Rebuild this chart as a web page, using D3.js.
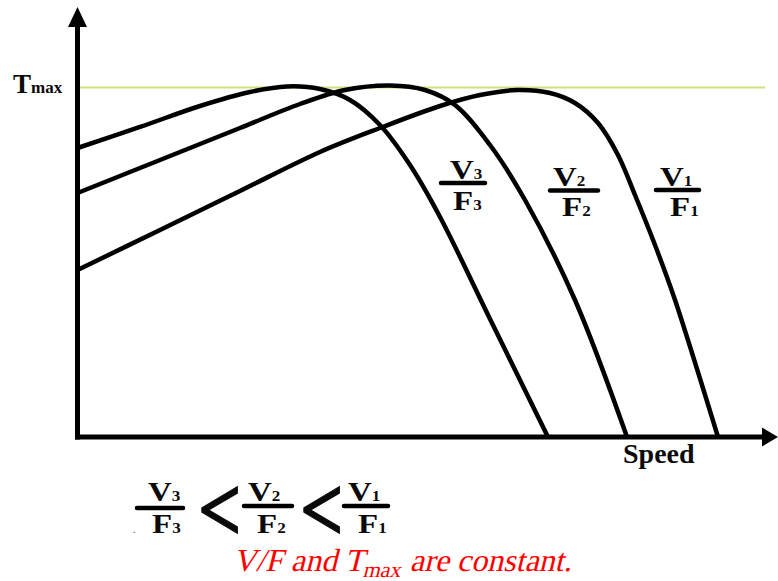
<!DOCTYPE html>
<html>
<head>
<meta charset="utf-8">
<script src="https://cdn.jsdelivr.net/npm/d3@7"></script>
<style>
  html, body { margin: 0; padding: 0; background: #ffffff; }
  svg { display: block; }
</style>
</head>
<body>
<svg id="chart" width="778" height="581"></svg>
<script>
// ---- Data (speed in % of axis length, torque in % of Tmax) ----
const curveNames = ["V3/F3", "V2/F2", "V1/F1"];
const v3Speed  = [0, 8.93, 17.5, 24.64, 29.93, 34.64, 38.93, 43.21, 47.5, 51.79, 58.93, 67.21];
const v3Torque = [82.69, 88.7, 94.71, 98.71, 100.29, 99.57, 96.42, 89.27, 77.82, 62.95, 33.76, 0];
const v2Speed  = [0, 11.79, 23.21, 31.79, 38.21, 44.64, 49.64, 53.93, 58.93, 63.93, 71.07, 78.5];
const v2Torque = [69.81, 79.26, 88.41, 95.28, 99.28, 100.57, 99.28, 94.99, 83.55, 67.81, 39.2, 0];
const v1Speed  = [0, 11.79, 23.21, 34.64, 43.21, 51.79, 57.5, 62.79, 67.5, 71.07, 74.36, 77.21, 79.64, 82.5, 85.36, 91.5];
const v1Torque = [47.78, 59.23, 70.39, 81.55, 88.41, 94.71, 97.85, 99.28, 98.43, 95.57, 89.84, 80.69, 69.24, 54.94, 39.2, 0];
const tmaxValue = 100;
const axisLabelY = "T";
const axisLabelYSub = "max";
const axisLabelX = "Speed";
const fracNum = ["V", "V", "V"];
const fracDen = ["F", "F", "F"];
const fracIdx = ["3", "2", "1"];
const noteMain = "V/F and T";
const noteSub = "max";
const noteEnd = " are constant.";

const series = [
  { name: curveNames[0], pts: v3Speed.map((s, i) => [s, v3Torque[i]]) },
  { name: curveNames[1], pts: v2Speed.map((s, i) => [s, v2Torque[i]]) },
  { name: curveNames[2], pts: v1Speed.map((s, i) => [s, v1Torque[i]]) }
];

const svg = d3.select("#chart");
const x = d3.scaleLinear().domain([0, 100]).range([77.5, 777.5]);
const y = d3.scaleLinear().domain([0, 100]).range([437, 87.5]);

const serif = "'Liberation Serif', 'Times New Roman', Times, serif";
const ink = "#0a0a0a";

// Tmax reference line
svg.append("line")
  .attr("x1", x(0) + 2).attr("x2", 765)
  .attr("y1", y(tmaxValue)).attr("y2", y(tmaxValue))
  .attr("stroke", "#cde27c").attr("stroke-width", 2);

// Curves
const line = d3.line()
  .x(d => x(d[0])).y(d => y(d[1]))
  .curve(d3.curveCatmullRom.alpha(0.5));

svg.append("g").selectAll("path")
  .data(series).join("path")
  .attr("d", d => line(d.pts))
  .attr("fill", "none")
  .attr("stroke", "#000")
  .attr("stroke-width", 4.5)
  .attr("stroke-linejoin", "round");

// Axes
const ax = svg.append("g");
ax.append("line")
  .attr("x1", x(0)).attr("x2", x(0))
  .attr("y1", y(0) + 2.5).attr("y2", 24)
  .attr("stroke", "#000").attr("stroke-width", 5);
ax.append("path")
  .attr("d", `M${x(0)},7 L${x(0) - 9.5},27 L${x(0) + 9.5},27 Z`)
  .attr("fill", "#000");
ax.append("line")
  .attr("x1", x(0) - 2.5).attr("x2", 765)
  .attr("y1", y(0)).attr("y2", y(0))
  .attr("stroke", "#000").attr("stroke-width", 5);
ax.append("path")
  .attr("d", `M778,${y(0)} L762,${y(0) - 9.5} L762,${y(0) + 9.5} Z`)
  .attr("fill", "#000");

// Y label Tmax
const ty = svg.append("text")
  .attr("x", 13).attr("y", 93)
  .attr("font-family", serif).attr("font-weight", "bold")
  .attr("fill", ink);
ty.append("tspan").attr("font-size", 27).text(axisLabelY);
ty.append("tspan").attr("font-size", 17).text(axisLabelYSub);

// X label Speed
svg.append("text")
  .attr("x", 623).attr("y", 463)
  .attr("font-family", serif).attr("font-weight", "bold")
  .attr("font-size", 28).attr("fill", ink)
  .text(axisLabelX);

// Fraction helper
function frac(i, numX, denX, barX1, barX2, barY, numBase, denBase) {
  const g = svg.append("g");
  const addTxt = (tx, ty, main, sub) => {
    const t = g.append("text")
      .attr("transform", `translate(${tx},${ty}) scale(1.22,1)`)
      .attr("font-family", serif).attr("font-weight", "bold")
      .attr("fill", ink);
    t.append("tspan").attr("font-size", 27).text(main);
    t.append("tspan").attr("font-size", 14).text(sub);
  };
  addTxt(numX, numBase, fracNum[i], fracIdx[i]);
  addTxt(denX, denBase, fracDen[i], fracIdx[i]);
  g.append("line")
    .attr("x1", barX1).attr("x2", barX2)
    .attr("y1", barY).attr("y2", barY)
    .attr("stroke", "#000").attr("stroke-width", 4.5)
    .attr("stroke-linecap", "round");
}

// Curve labels
frac(0, 450, 453, 441, 485, 183, 179, 210);
frac(1, 553, 562, 550, 598, 190.5, 186, 216);
frac(2, 660, 670, 656, 699, 190, 186, 216);

// Inequality
frac(0, 148, 152, 137, 183, 508, 501, 533);
frac(1, 248, 257, 244, 292, 506, 501, 533);
frac(2, 348, 358, 344, 388, 506, 501, 533);
[198, 300].forEach(px => {
  svg.append("text")
    .attr("transform", `translate(${px},541) scale(1.05,1.28)`)
    .attr("font-family", serif).attr("font-weight", "bold")
    .attr("font-size", 73).attr("fill", ink)
    .attr("stroke", ink).attr("stroke-width", 0.9)
    .text("<");
});
svg.append("text")
  .attr("x", 133).attr("y", 533)
  .attr("font-family", serif).attr("font-size", 10).attr("fill", "#444")
  .text(".");

// Red note (serif with slant)
const note = svg.append("text")
  .attr("transform", "translate(233,571) skewX(-14)")
  .attr("font-family", serif)
  .attr("font-size", 32).attr("fill", "#ff0000");
note.append("tspan").text(noteMain);
note.append("tspan").attr("font-size", 22).attr("dy", 6).text(noteSub);
note.append("tspan").attr("font-size", 32).attr("dy", -6).text(noteEnd);
</script>
</body>
</html>
